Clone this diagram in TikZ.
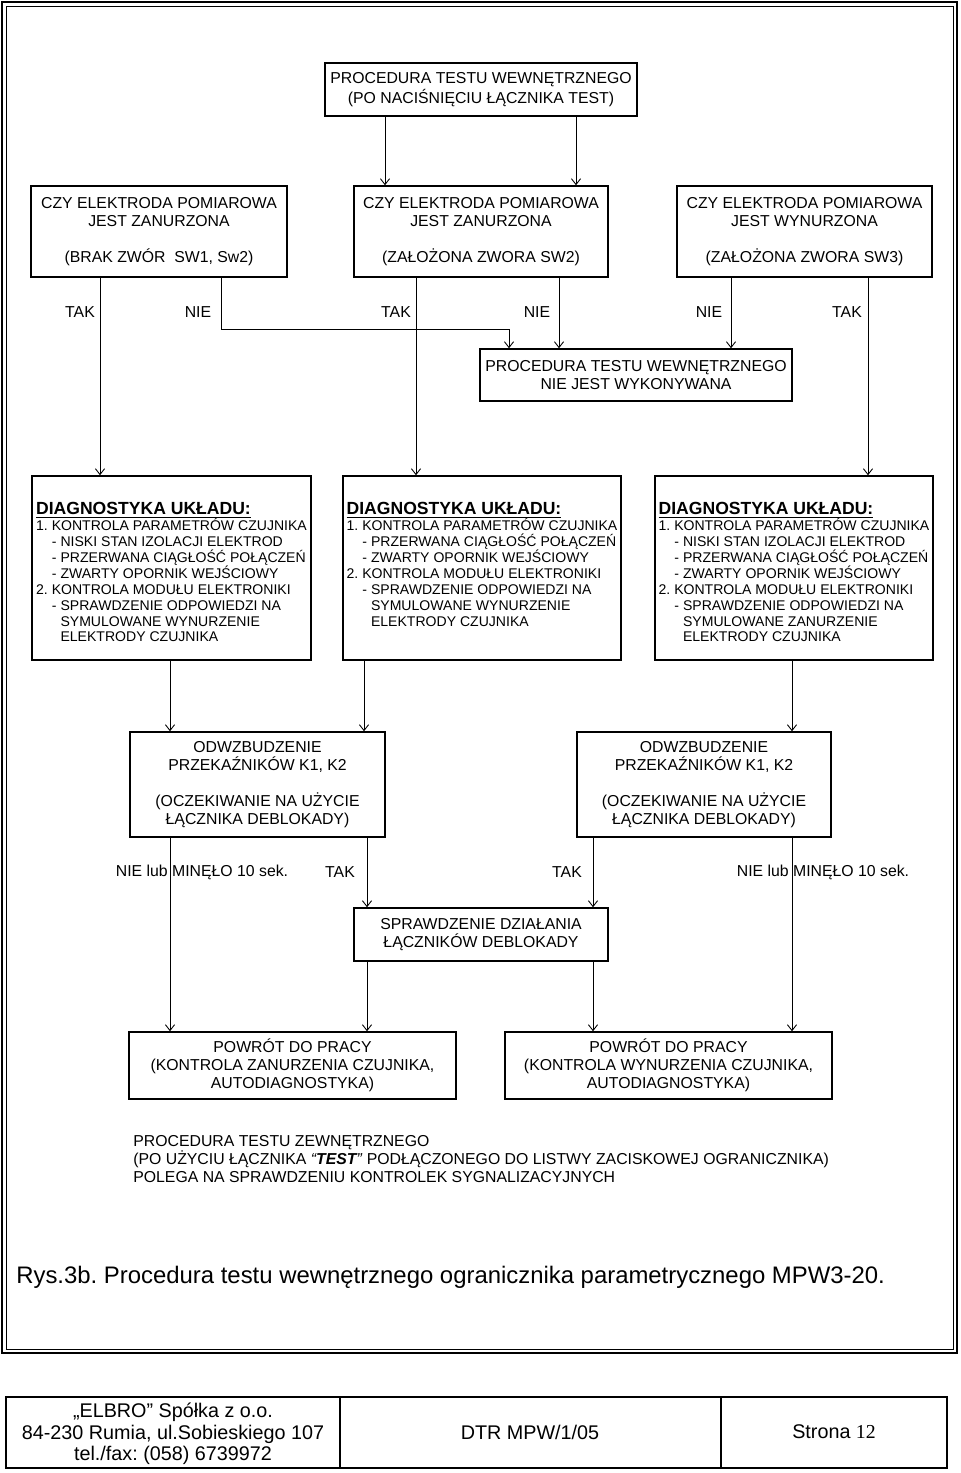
\documentclass[tikz,border=0pt]{standalone}
\usepackage{fontspec}
\setmainfont{Liberation Sans}
\newfontfamily\numfont{Liberation Serif}
\usetikzlibrary{arrows.meta}
\frenchspacing
\tikzstyle{process} = [rectangle, text centered, align=center, draw=black, line width=0.9pt, inner sep=0pt, font=\fontsize{9}{10.2}\selectfont]
\tikzstyle{diagbox} = [rectangle, align=left, draw=black, line width=0.9pt, inner sep=0pt, minimum width=5.57cm, minimum height=3.68cm, font=\fontsize{8}{9.07}\selectfont]
\tikzstyle{answer} = [inner sep=0pt, font=\fontsize{9}{10.2}\selectfont]
\tikzstyle{footer} = [inner sep=0pt, align=center, font=\fontsize{11.25}{12.2}\selectfont]
\tikzstyle{arrow}=[line width=0.5pt,->,>={Straight Barb[length=3.3pt,width=5.2pt]}]
\newcommand{\diaghead}{{\fontsize{10}{9.07}\selectfont\bfseries\rule{0pt}{11.7pt}\underline{DIAGNOSTYKA UKŁADU:}}}
\newcommand{\diagind}{\hspace*{9pt}}
\newcommand{\diagcont}{\hspace*{9pt}\phantom{- }}

\begin{document}
\begin{tikzpicture}[x=0.02cm, y=-0.02cm]
\useasboundingbox (0,0) rectangle (960,1473);
\draw[line width=1.2pt] (2,2) rectangle (957,1353);
\draw[line width=0.5pt] (6,6) rectangle (953,1349);

\node(start)[process, minimum width=6.24cm, minimum height=1.06cm, font=\fontsize{9}{11.3}\selectfont] at (481,89.5) {PROCEDURA TESTU WEWNĘTRZNEGO\\(PO NACIŚNIĘCIU ŁĄCZNIKA TEST)};
\node(askA)[process, minimum width=5.12cm, minimum height=1.82cm] at (159,231.5) {CZY ELEKTRODA POMIAROWA\\JEST ZANURZONA\\[10.2pt](BRAK ZWÓR\ \ SW1,\ Sw2)};
\node(askB)[process, minimum width=5.08cm, minimum height=1.82cm] at (481,231.5) {CZY ELEKTRODA POMIAROWA\\JEST ZANURZONA\\[10.2pt](ZAŁOŻONA ZWORA SW2)};
\node(askC)[process, minimum width=5.1cm, minimum height=1.82cm] at (804.5,231.5) {CZY ELEKTRODA POMIAROWA\\JEST WYNURZONA\\[10.2pt](ZAŁOŻONA ZWORA SW3)};
\node(skip)[process, minimum width=6.24cm, minimum height=1.04cm] at (636,375) {PROCEDURA TESTU WEWNĘTRZNEGO\\NIE JEST WYKONYWANA};

\node(takA)[answer] at (80,312) {TAK};
\node(nieA)[answer] at (198,312) {NIE};
\node(takB)[answer] at (396,312) {TAK};
\node(nieB)[answer] at (537,312) {NIE};
\node(nieC)[answer] at (709,312) {NIE};
\node(takC)[answer] at (847,312) {TAK};

\node(diagA)[diagbox] at (171.5,568) {\diaghead\\1. KONTROLA PARAMETRÓW CZUJNIKA\\\diagind- NISKI STAN IZOLACJI ELEKTROD\\\diagind- PRZERWANA CIĄGŁOŚĆ POŁĄCZEŃ\\\diagind- ZWARTY OPORNIK WEJŚCIOWY\\2. KONTROLA MODUŁU ELEKTRONIKI\\\diagind- SPRAWDZENIE ODPOWIEDZI NA\\\diagcont SYMULOWANE WYNURZENIE\\\diagcont ELEKTRODY CZUJNIKA};
\node(diagB)[diagbox] at (482,568) {\diaghead\\1. KONTROLA PARAMETRÓW CZUJNIKA\\\diagind- PRZERWANA CIĄGŁOŚĆ POŁĄCZEŃ\\\diagind- ZWARTY OPORNIK WEJŚCIOWY\\2. KONTROLA MODUŁU ELEKTRONIKI\\\diagind- SPRAWDZENIE ODPOWIEDZI NA\\\diagcont SYMULOWANE WYNURZENIE\\\diagcont ELEKTRODY CZUJNIKA\\~};
\node(diagC)[diagbox] at (794,568) {\diaghead\\1. KONTROLA PARAMETRÓW CZUJNIKA\\\diagind- NISKI STAN IZOLACJI ELEKTROD\\\diagind- PRZERWANA CIĄGŁOŚĆ POŁĄCZEŃ\\\diagind- ZWARTY OPORNIK WEJŚCIOWY\\2. KONTROLA MODUŁU ELEKTRONIKI\\\diagind- SPRAWDZENIE ODPOWIEDZI NA\\\diagcont SYMULOWANE ZANURZENIE\\\diagcont ELEKTRODY CZUJNIKA};

\node(relayL)[process, minimum width=5.1cm, minimum height=2.1cm] at (257.5,784.5) {ODWZBUDZENIE\\PRZEKAŹNIKÓW K1, K2\\[10.2pt](OCZEKIWANIE NA UŻYCIE\\ŁĄCZNIKA DEBLOKADY)};
\node(relayR)[process, minimum width=5.08cm, minimum height=2.1cm] at (704,784.5) {ODWZBUDZENIE\\PRZEKAŹNIKÓW K1, K2\\[10.2pt](OCZEKIWANIE NA UŻYCIE\\ŁĄCZNIKA DEBLOKADY)};

\node(nieL)[answer] at (202,872) {NIE lub MINĘŁO 10 sek.};
\node(takL)[answer] at (340,872) {TAK};
\node(takR)[answer] at (567,872) {TAK};
\node(nieR)[answer] at (823,872) {NIE lub MINĘŁO 10 sek.};

\node(check)[process, minimum width=5.08cm, minimum height=1.06cm] at (481,934.5) {SPRAWDZENIE DZIAŁANIA\\ŁĄCZNIKÓW DEBLOKADY};
\node(backL)[process, minimum width=6.54cm, minimum height=1.34cm] at (292.5,1065.5) {POWRÓT DO PRACY\\(KONTROLA ZANURZENIA CZUJNIKA,\\AUTODIAGNOSTYKA)};
\node(backR)[process, minimum width=6.54cm, minimum height=1.34cm] at (668.5,1065.5) {POWRÓT DO PRACY\\(KONTROLA WYNURZENIA CZUJNIKA,\\AUTODIAGNOSTYKA)};

\node(outer)[answer, align=left, anchor=west] at (133,1159) {PROCEDURA TESTU ZEWNĘTRZNEGO\\(PO UŻYCIU ŁĄCZNIKA \textit{“\textbf{TEST}”} PODŁĄCZONEGO DO LISTWY ZACISKOWEJ OGRANICZNIKA)\\POLEGA NA SPRAWDZENIU KONTROLEK SYGNALIZACYJNYCH};
\node(caption)[inner sep=0pt, anchor=base west, font=\fontsize{13.6}{16}\selectfont] at (16,1283) {Rys.3b. Procedura testu wewnętrznego ogranicznika parametrycznego MPW3-20.};

\draw[arrow](start.south -| 385,0)--(askB.north -| 385,0);
\draw[arrow](start.south -| 576,0)--(askB.north -| 576,0);
\draw[arrow](askA.south -| 100,0)--(diagA.north -| 100,0);
\draw[arrow](askA.south -| 221,0)--++(0,52)-|(skip.north -| 509,0);
\draw[arrow](askB.south -| 416,0)--(diagB.north -| 416,0);
\draw[arrow](askB.south -| 559,0)--(skip.north -| 559,0);
\draw[arrow](askC.south -| 731,0)--(skip.north -| 731,0);
\draw[arrow](askC.south -| 868,0)--(diagC.north -| 868,0);
\draw[arrow](diagA.south -| 170,0)--(relayL.north -| 170,0);
\draw[arrow](diagB.south -| 364,0)--(relayL.north -| 364,0);
\draw[arrow](diagC.south -| 792,0)--(relayR.north -| 792,0);
\draw[arrow](relayL.south -| 170,0)--(backL.north -| 170,0);
\draw[arrow](relayL.south -| 367,0)--(check.north -| 367,0);
\draw[arrow](relayR.south -| 593,0)--(check.north -| 593,0);
\draw[arrow](relayR.south -| 792,0)--(backR.north -| 792,0);
\draw[arrow](check.south -| 367,0)--(backL.north -| 367,0);
\draw[arrow](check.south -| 593,0)--(backR.north -| 593,0);

\draw[line width=0.6pt] (6,1397) rectangle (947,1468) (340,1397) -- (340,1468) (721,1397) -- (721,1468);
\draw[line width=1.5pt] (6,1397) -- (947,1397) -- (947,1468) -- (6,1468);
\node(firm)[footer] at (173,1434) {„ELBRO” Spółka z o.o.\\84-230 Rumia, ul.Sobieskiego 107\\tel./fax: (058) 6739972};
\node(doc)[footer] at (530,1432) {DTR MPW/1/05};
\node(page)[footer] at (834,1432) {Strona {\numfont 12}};
\end{tikzpicture}
\end{document}
